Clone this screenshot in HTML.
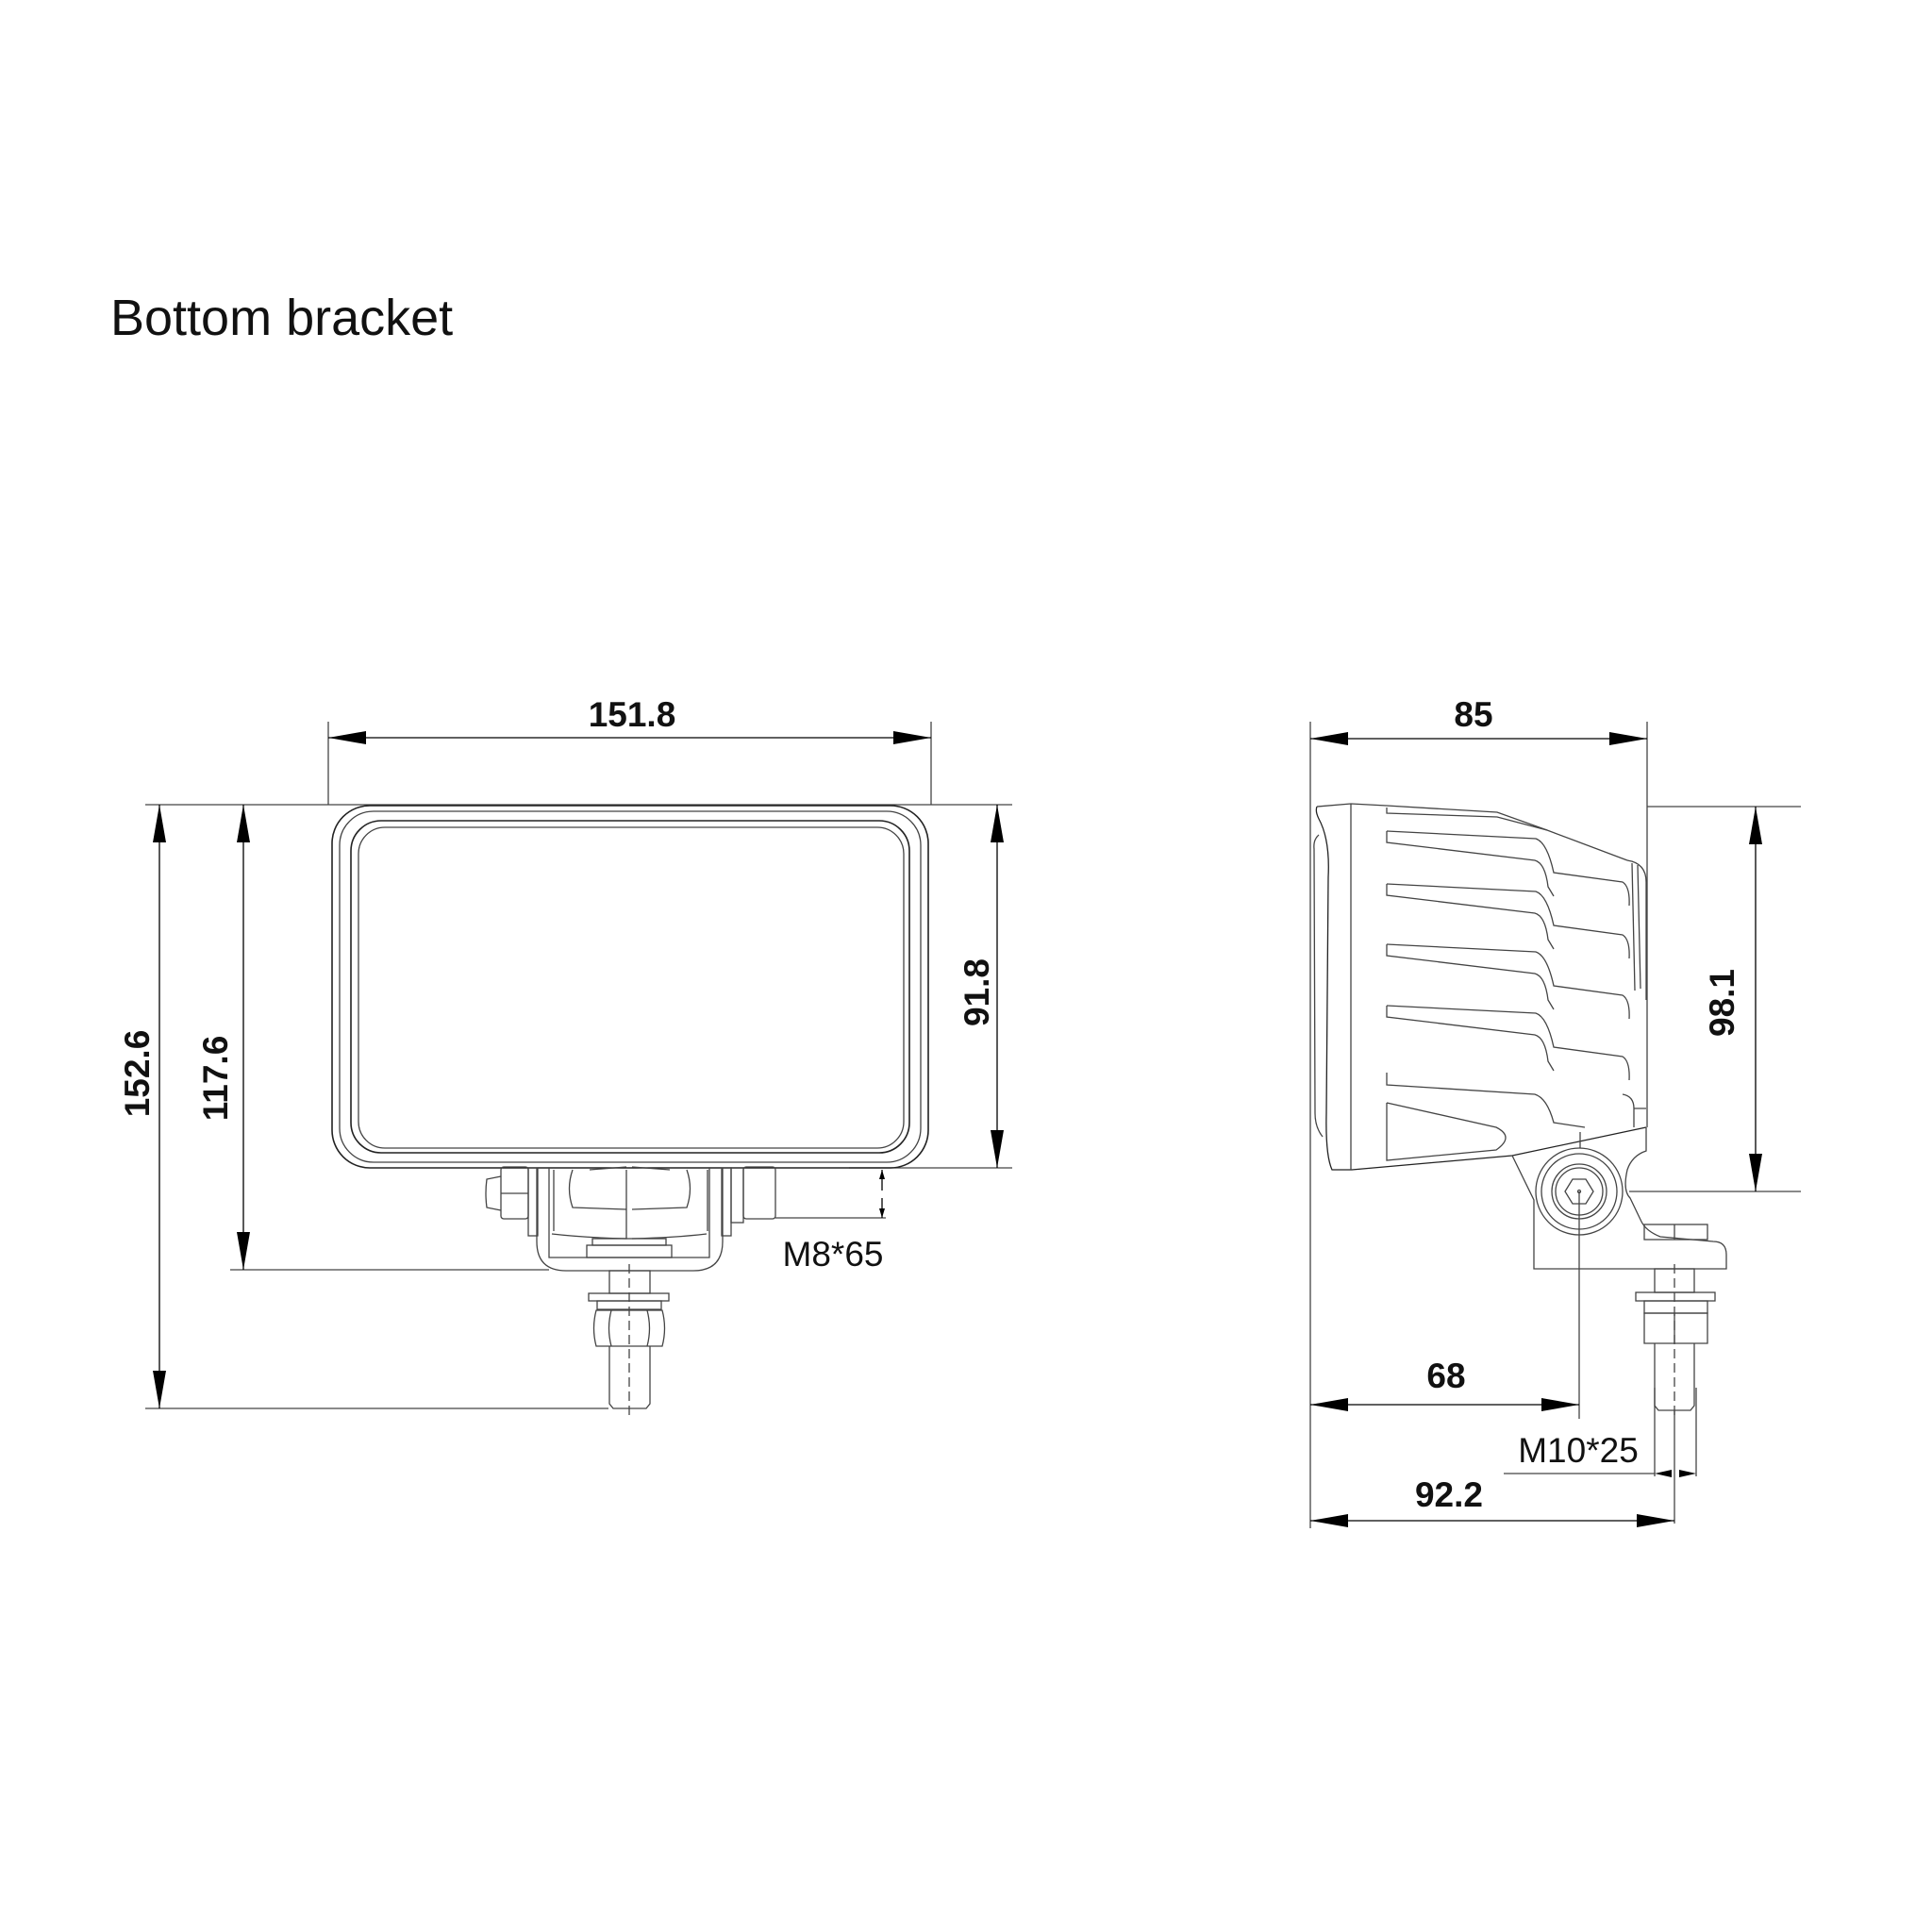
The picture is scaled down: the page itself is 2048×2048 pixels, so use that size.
<!DOCTYPE html>
<html><head><meta charset="utf-8"><style>
html,body{margin:0;padding:0;background:#fff;}
svg{display:block;}
.t{font-family:"Liberation Sans",sans-serif;font-weight:bold;font-size:37px;fill:#111;}
</style></head><body>
<svg width="2048" height="2048" viewBox="0 0 2048 2048" xmlns="http://www.w3.org/2000/svg">
<defs>
<marker id="a" viewBox="0 0 40 14" refX="40" refY="7" markerWidth="40" markerHeight="14" markerUnits="userSpaceOnUse" orient="auto-start-reverse"><path d="M0,0 L40,7 L0,14 Z" fill="#000"/></marker>
</defs>
<text x="117" y="355" style="font-family:'Liberation Sans',sans-serif;font-size:54px;fill:#111">Bottom bracket</text>

<g stroke="#444" stroke-width="1.3" fill="none">
<line x1="348" y1="765" x2="348" y2="853"/>
<line x1="987" y1="765" x2="987" y2="853"/>
<line x1="154" y1="853" x2="1073" y2="853"/>
<line x1="900" y1="1238" x2="1073" y2="1238"/>
<line x1="244" y1="1346" x2="582" y2="1346"/>
<line x1="154" y1="1493" x2="645" y2="1493"/>
<line x1="822" y1="1291" x2="939" y2="1291"/>
<line x1="348" y1="782" x2="987" y2="782" marker-start="url(#a)" marker-end="url(#a)" stroke="#000"/>
<line x1="169" y1="853" x2="169" y2="1493" marker-start="url(#a)" marker-end="url(#a)" stroke="#000"/>
<line x1="258" y1="853" x2="258" y2="1346" marker-start="url(#a)" marker-end="url(#a)" stroke="#000"/>
<line x1="1057" y1="853" x2="1057" y2="1238" marker-start="url(#a)" marker-end="url(#a)" stroke="#000"/>
<line x1="935" y1="1240" x2="935" y2="1262" stroke="#000"/>
<path d="M932,1250 L935,1240 L938,1250Z M932,1281 L935,1291 L938,1281Z" fill="#000" stroke="none"/>
<line x1="935" y1="1270" x2="935" y2="1291" stroke="#000"/>

<rect x="352" y="854" width="632" height="384" rx="40" stroke="#222" stroke-width="1.6"/>
<rect x="360" y="860" width="616" height="372" rx="36"/>
<rect x="372" y="870" width="592" height="352" rx="32" stroke="#222" stroke-width="1.6"/>
<rect x="380" y="877" width="578" height="340" rx="28"/>
<path d="M569,1238 V1316 Q569,1347 600,1347 H735 Q766,1347 766,1316 V1238"/>
<path d="M582,1238 V1333 H752 V1238"/>
<rect x="560" y="1238" width="10" height="72"/>
<rect x="765" y="1238" width="10" height="72"/>
<rect x="775" y="1238" width="13" height="58"/>
<rect x="788" y="1237" width="34" height="55" rx="3"/>
<rect x="531" y="1237" width="29" height="55" rx="3"/>
<path d="M531,1247 L516,1250 Q514,1265 516,1280 L531,1283"/>
<path d="M531,1265 L560,1265"/>
<path d="M587,1240 V1305 M750,1240 V1305"/>
<path d="M585,1308 Q620,1312 664,1313 V1240 M670,1313 Q715,1312 749,1308"/>
<path d="M607,1240 Q600,1260 607,1280 L664,1282 M670,1282 L728,1280 Q735,1260 728,1240"/>
<path d="M625,1240 L664,1237 M670,1237 L710,1240"/>
<rect x="628" y="1313" width="78" height="7"/>
<rect x="622" y="1320" width="90" height="13"/>
<rect x="646" y="1347" width="43" height="24"/>
<rect x="624" y="1371" width="85" height="8"/>
<rect x="633" y="1379" width="68" height="9"/>
<path d="M632,1389 H702 Q707,1408 702,1427 H632 Q627,1408 632,1389Z"/>
<path d="M648,1389 Q643,1408 648,1427 M686,1389 Q691,1408 686,1427"/>
<path d="M646,1427 V1488 L650,1493 H685 L689,1488 V1427"/>
<line x1="667" y1="1340" x2="667" y2="1500" stroke-dasharray="10,5"/>

<line x1="1389" y1="765" x2="1389" y2="1620"/>
<line x1="1746" y1="765" x2="1746" y2="1195"/>
<line x1="1746" y1="855" x2="1909" y2="855"/>
<line x1="1727" y1="1263" x2="1909" y2="1263"/>
<line x1="1674" y1="1263" x2="1674" y2="1504"/>
<line x1="1594" y1="1562" x2="1754" y2="1562"/>
<line x1="1754" y1="1471" x2="1754" y2="1565"/>
<line x1="1798" y1="1471" x2="1798" y2="1565"/>
<line x1="1775" y1="1495" x2="1775" y2="1615"/>
<line x1="1389" y1="783" x2="1746" y2="783" marker-start="url(#a)" marker-end="url(#a)" stroke="#000"/>
<line x1="1861" y1="855" x2="1861" y2="1263" marker-start="url(#a)" marker-end="url(#a)" stroke="#000"/>
<line x1="1389" y1="1489" x2="1674" y2="1489" marker-start="url(#a)" marker-end="url(#a)" stroke="#000"/>
<line x1="1389" y1="1612" x2="1775" y2="1612" marker-start="url(#a)" marker-end="url(#a)" stroke="#000"/>
<path d="M1754,1562 L1772,1558 L1772,1566Z M1798,1562 L1780,1558 L1780,1566Z" fill="#000" stroke="none"/>

<path d="M1396,855 Q1394,860 1398,868 Q1410,890 1408,930 L1406,1180 Q1405,1225 1412,1240 H1433 L1603,1225 L1745,1195" stroke="#222"/>
<path d="M1396,855 L1432,852 L1470,854 L1587,861 L1640,880 L1725,912"/>
<path d="M1398,885 Q1392,890 1393,900 L1394,1180 Q1394,1195 1402,1205"/>
<line x1="1432" y1="852" x2="1432" y2="1240"/>
<path d="M1725,912 Q1745,915 1745,935 V1060"/>
<path d="M1730,915 L1733,1050 M1736,917 L1739,1048"/>
<path d="M1470,856 V862 L1587,866 L1640,880"/>
<g id="fin">
<path d="M1470,881 L1628,889 Q1640,893 1647,925 L1720,935 Q1728,940 1727,960"/>
<path d="M1470,881 V893 L1627,912 Q1638,915 1641,940 L1647,950"/>
</g>
<use href="#fin" y="56"/>
<use href="#fin" y="120"/>
<use href="#fin" y="185"/>
<path d="M1470,1137 V1150 L1627,1160 Q1640,1164 1647,1190 L1680,1195"/>
<path d="M1470,1169 L1586,1195 Q1606,1205 1586,1219 L1470,1230 V1169"/>
<path d="M1720,1160 Q1732,1162 1732,1175 V1195 M1732,1175 H1745"/>
<path d="M1603,1225 L1626,1272 V1345 H1830 V1330 Q1830,1316 1816,1316 L1760,1311 Q1745,1305 1740,1295 L1728,1270 Q1720,1262 1725,1240 Q1730,1225 1745,1220 V1195"/>
<line x1="1675" y1="1200" x2="1675" y2="1217"/>
<circle cx="1674" cy="1263" r="46"/>
<circle cx="1674" cy="1263" r="40"/>
<circle cx="1674" cy="1263" r="29"/>
<circle cx="1674" cy="1263" r="25"/>
<path d="M1659,1263 L1667,1250 H1681 L1689,1263 L1681,1276 H1667Z"/>
<circle cx="1674" cy="1263" r="1.5"/>
<rect x="1743" y="1298" width="67" height="16"/>
<line x1="1775" y1="1298" x2="1775" y2="1314"/>
<rect x="1754" y="1345" width="42" height="25"/>
<rect x="1734" y="1370" width="84" height="9"/>
<rect x="1743" y="1379" width="67" height="13"/>
<path d="M1743,1392 H1810 V1424 H1743Z M1775,1392 V1424"/>
<path d="M1754,1424 V1490 L1758,1495 H1792 L1796,1490 V1424"/>
<line x1="1775" y1="1340" x2="1775" y2="1500" stroke-dasharray="10,5"/>
</g>

<text class="t" x="670" y="770" text-anchor="middle">151.8</text>
<text class="t" transform="translate(158,1138) rotate(-90)" text-anchor="middle">152.6</text>
<text class="t" transform="translate(241,1143) rotate(-90)" text-anchor="middle">117.6</text>
<text class="t" transform="translate(1048,1052) rotate(-90)" text-anchor="middle">91.8</text>
<text class="t" x="883" y="1342" text-anchor="middle" style="font-weight:normal">M8*65</text>
<text class="t" x="1562" y="770" text-anchor="middle">85</text>
<text class="t" transform="translate(1838,1063) rotate(-90)" text-anchor="middle">98.1</text>
<text class="t" x="1533" y="1471" text-anchor="middle">68</text>
<text class="t" x="1673" y="1550" text-anchor="middle" style="font-weight:normal">M10*25</text>
<text class="t" x="1536" y="1597" text-anchor="middle">92.2</text>
</svg>
</body></html>
